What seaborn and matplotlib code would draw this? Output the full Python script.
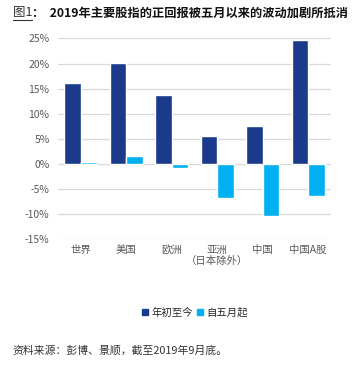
import matplotlib
matplotlib.use("Agg")
import matplotlib.pyplot as plt
import pandas as pd
import seaborn as sns
from matplotlib.lines import Line2D
from matplotlib.ticker import FuncFormatter

markets = ["世界", "美国", "欧洲", "亚洲\n（日本除外）", "中国", "中国A股"]
ytd = [16.2, 20.1, 13.8, 5.6, 7.6, 24.6]
since_may = [0.3, 1.5, -0.8, -6.8, -10.5, -6.4]
series_names = ["年初至今", "自五月起"]
palette = ["#1B3A8C", "#00B0F0"]

df = pd.DataFrame({
    "market": markets * 2,
    "series": [series_names[0]] * len(markets) + [series_names[1]] * len(markets),
    "value": ytd + since_may,
})

sns.set_theme(style="white")
plt.rcParams["font.family"] = ["Noto Sans CJK SC", "DejaVu Sans"]

fig = plt.figure(figsize=(3.64, 3.66), dpi=100)
ax = fig.add_axes([0.159, 0.347, 0.750, 0.548])

sns.barplot(data=df, x="market", y="value", hue="series", order=markets,
            hue_order=series_names, palette=palette, width=0.72,
            saturation=1, ax=ax, legend=False)

ax.set_ylim(-15, 25)
ax.set_yticks(range(-15, 26, 5))
ax.yaxis.set_major_formatter(FuncFormatter(lambda v, _: f"{v:.0f}%"))
ax.grid(axis="y", color="#D9D9D9", linewidth=0.9)
ax.set_axisbelow(True)
for s in ax.spines.values():
    s.set_visible(False)
ax.set_xlabel("")
ax.set_ylabel("")
ax.tick_params(axis="both", length=0, labelsize=7.5, colors="#595959", pad=6)
ax.tick_params(axis="x", pad=4)

handles = [Line2D([], [], marker="s", linestyle="", markersize=5,
                  markerfacecolor=c, markeredgecolor=c) for c in palette]
fig.legend(handles, series_names, loc="center", bbox_to_anchor=(0.535, 0.145),
           ncol=2, frameon=False, fontsize=7.5, handletextpad=0.2,
           columnspacing=0.3, handlelength=0.8)

fig.text(0.035, 0.044, "资料来源：彭博、景顺，截至2019年9月底。", fontsize=7.8, color="#333333",
         va="center")

# title with underlined "图1"
t1 = fig.text(0.035, 0.965, "图1", fontsize=9, color="#333333", va="center")
fig.canvas.draw()
bb = t1.get_window_extent().transformed(fig.transFigure.inverted())
fig.add_artist(Line2D([bb.x0, bb.x1], [bb.y0 - 0.002, bb.y0 - 0.002],
                      transform=fig.transFigure, color="#333333", linewidth=0.8))
fig.text(bb.x1, 0.965, "：  2019年主要股指的正回报被五月以来的波动加剧所抵消", fontsize=8.8,
         color="#111111", va="center", fontweight="bold")

fig.savefig("out.png", dpi=100)
